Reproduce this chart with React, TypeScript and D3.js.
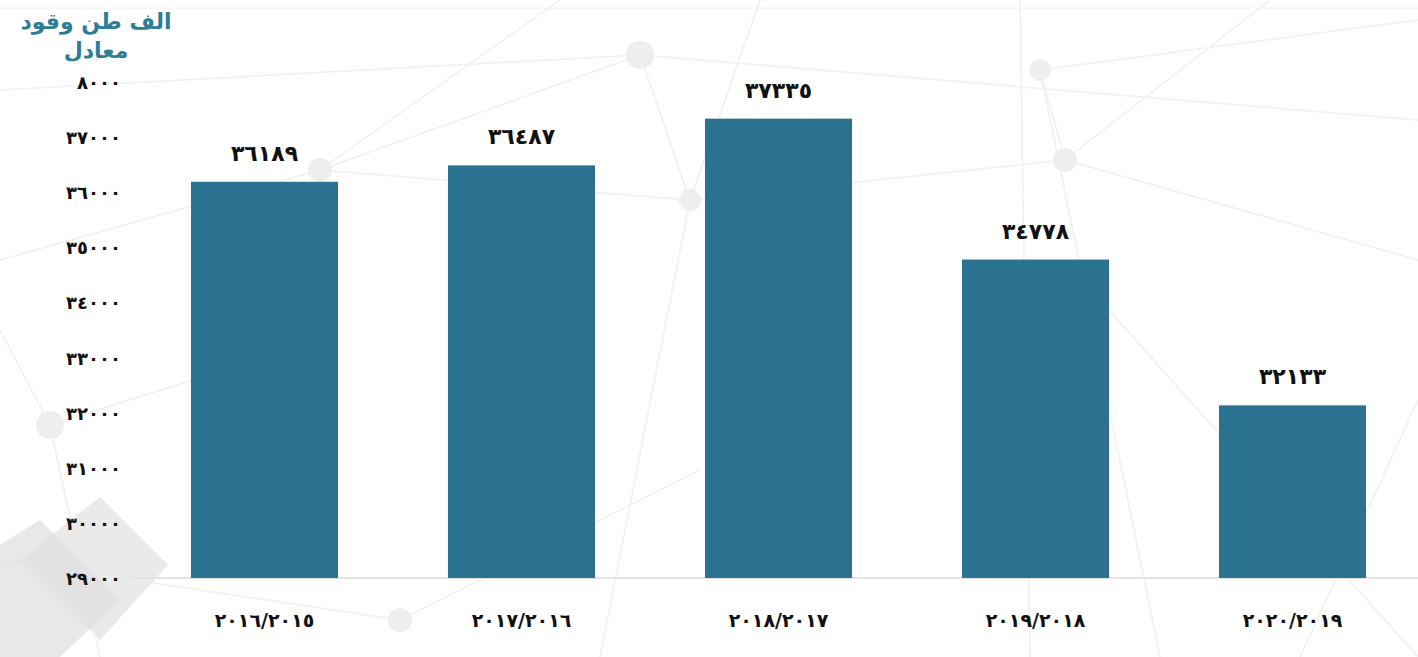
import React from "react";
import * as d3 from "d3";

const categories = ["٢٠١٦/٢٠١٥", "٢٠١٧/٢٠١٦", "٢٠١٨/٢٠١٧", "٢٠١٩/٢٠١٨", "٢٠٢٠/٢٠١٩"];
const values = [36189, 36487, 37335, 34778, 32133];
const valueLabels = ["٣٦١٨٩", "٣٦٤٨٧", "٣٧٣٣٥", "٣٤٧٧٨", "٣٢١٣٣"];
const tickValues = [29000, 30000, 31000, 32000, 33000, 34000, 35000, 36000, 37000, 38000];
const tickLabels = ["٢٩٠٠٠", "٣٠٠٠٠", "٣١٠٠٠", "٣٢٠٠٠", "٣٣٠٠٠", "٣٤٠٠٠", "٣٥٠٠٠", "٣٦٠٠٠", "٣٧٠٠٠", "٨٠٠٠"];
const titleLines = ["الف طن وقود", "معادل"];

// background decoration (network pattern)
const decorLines: [number, number, number, number][] = [
  [0, 90, 640, 55], [640, 55, 1418, 120], [640, 55, 320, 170], [640, 55, 690, 200],
  [320, 170, 0, 260], [320, 170, 690, 200], [690, 200, 1065, 160], [1065, 160, 1040, 70],
  [1040, 70, 1418, 20], [1065, 160, 1418, 260], [690, 200, 600, 657], [1040, 70, 1160, 657],
  [50, 425, 0, 330], [50, 425, 320, 340], [50, 425, 100, 657], [400, 620, 700, 470],
  [400, 620, 0, 560], [1020, 0, 1030, 657], [1100, 300, 1418, 657], [1418, 400, 1300, 657],
  [560, 0, 320, 170], [760, 0, 690, 200], [1270, 0, 1065, 160],
];
const decorNodes: [number, number, number][] = [
  [640, 55, 14], [320, 170, 12], [690, 200, 11], [1065, 160, 12], [1040, 70, 11],
  [50, 425, 14], [400, 620, 12],
];

export default function App() {
  const W = 1418, H = 657;
  const x = d3.scaleBand<string>().domain(categories).range([136, 1421]).paddingInner(0.428).paddingOuter(0.214);
  const y = d3.scaleLinear().domain([29000, 38000]).range([578, 82]);
  const font = "'DejaVu Sans', sans-serif";
  return (
    <div style={{ position: "absolute", left: 0, top: 0 }}>
      <svg width={W} height={H} style={{ display: "block", background: "#fff" }}>
        <g>
          {decorLines.map((l, i) => (
            <line key={i} x1={l[0]} y1={l[1]} x2={l[2]} y2={l[3]} stroke="#f0f0f0" strokeWidth={1.5} />
          ))}
          {decorNodes.map((n, i) => (
            <circle key={i} cx={n[0]} cy={n[1]} r={n[2]} fill="#eeeeee" />
          ))}
          <polygon points="20,560 100,497 168,565 100,640" fill="#ebeaeb" />
          <polygon points="0,545 40,520 120,600 60,657 0,657" fill="#dedddf" opacity={0.7} />
          <line x1={0} y1={8} x2={W} y2={8} stroke="#f0f0f0" strokeWidth={1} />
        </g>
        <line x1={130} x2={W} y1={y(29000)} y2={y(29000)} stroke="#e2e2e2" strokeWidth={2} />
        {values.map((v, i) => (
          <rect key={i} x={x(categories[i])} y={y(v)} width={x.bandwidth()} height={y(29000) - y(v)} fill="#2b7290" />
        ))}
        {values.map((v, i) => (
          <text key={i} x={(x(categories[i]) as number) + x.bandwidth() / 2} y={y(v) - 21} textAnchor="middle"
            fontFamily={font} fontWeight="bold" fontSize={22} fill="#111" direction="ltr">{valueLabels[i]}</text>
        ))}
        {tickValues.map((t, i) => (
          <text key={i} x={121} y={y(t) + 7} textAnchor="end" fontFamily={font} fontWeight="bold" fontSize={18} fill="#111" direction="ltr">{tickLabels[i]}</text>
        ))}
        {categories.map((c, i) => (
          <text key={i} x={(x(c) as number) + x.bandwidth() / 2} y={627} textAnchor="middle" fontFamily={font}
            fontWeight="bold" fontSize={19} fill="#111" direction="ltr">{c}</text>
        ))}
        {titleLines.map((t, i) => (
          <text key={i} x={96} y={29 + i * 29} textAnchor="middle" fontFamily={font} fontWeight="bold" fontSize={22}
            fill="#2e7d96" direction="rtl">{t}</text>
        ))}
      </svg>
    </div>
  );
}
